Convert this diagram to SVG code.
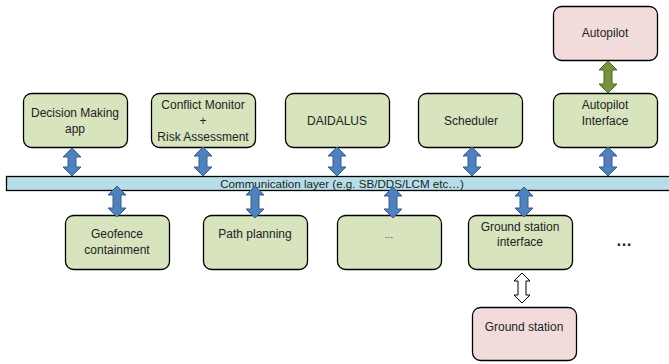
<svg xmlns="http://www.w3.org/2000/svg" width="669" height="364" viewBox="0 0 669 364">
<style>
.g{fill:#d7e4bd;stroke:#000;stroke-width:1.3}
.p{fill:#f2dcdb;stroke:#000;stroke-width:1.3}
.t{font-family:"Liberation Sans",Arial,sans-serif;font-size:12px;fill:#222;text-anchor:middle}
.ba{fill:#4f81bd;stroke:#385d8a;stroke-width:1}
.ga{fill:#77933c;stroke:#4f6228;stroke-width:1}
.wa{fill:#fff;stroke:#000;stroke-width:1}
</style>
<rect x="0" y="0" width="669" height="364" fill="#fff"/>
<g id="comm">
<rect x="6.5" y="176.5" width="670" height="14" fill="#b7dee8" stroke="#000" stroke-width="1.3"/>
<text class="t" x="342" y="188" style="font-size:11.6px">Communication layer (e.g. SB/DDS/LCM etc…)</text>
</g>
<g id="autopilot"><rect class="p" x="553.5" y="6.5" width="104" height="54" rx="8"/><text class="t" x="605" y="37">Autopilot</text></g>
<g id="decision"><rect class="g" x="23.5" y="93.5" width="104" height="54" rx="8"/><text class="t" x="75" y="117">Decision Making</text><text class="t" x="75" y="133">app</text></g>
<g id="conflict"><rect class="g" x="151.5" y="93.5" width="104" height="54" rx="8"/><text class="t" x="203" y="109">Conflict Monitor</text><text class="t" x="203" y="125">+</text><text class="t" x="203" y="141">Risk Assessment</text></g>
<g id="daidalus"><rect class="g" x="285.5" y="93.5" width="104" height="54" rx="8"/><text class="t" x="337" y="125">DAIDALUS</text></g>
<g id="scheduler"><rect class="g" x="418.5" y="93.5" width="104" height="54" rx="8"/><text class="t" x="471" y="125">Scheduler</text></g>
<g id="apif"><rect class="g" x="553.5" y="93.5" width="104" height="54" rx="8"/><text class="t" x="605" y="109">Autopilot</text><text class="t" x="605" y="125">Interface</text></g>
<g id="geofence"><rect class="g" x="65.5" y="215.5" width="104" height="54" rx="8"/><text class="t" x="117" y="238">Geofence</text><text class="t" x="117" y="254">containment</text></g>
<g id="path"><rect class="g" x="203.5" y="215.5" width="104" height="54" rx="8"/><text class="t" x="255" y="238">Path planning</text></g>
<g id="dots"><rect class="g" x="337.5" y="215.5" width="104" height="54" rx="8"/><text class="t" x="389" y="238" style="font-size:9px">…</text></g>
<g id="gsif"><rect class="g" x="468.5" y="215.5" width="104" height="54" rx="8"/><text class="t" x="520" y="231">Ground station</text><text class="t" x="520" y="246">interface</text></g>
<g id="gs"><rect class="p" x="472.5" y="307.5" width="104" height="53" rx="8"/><text class="t" x="524" y="331">Ground station</text></g>
<g id="more"><text class="t" x="624" y="246" style="font-size:16px;font-weight:bold">…</text></g>
<g id="connectors">
<path class="ba" d="M72,148 L81,157 L76,157 L76,167 L81,167 L72,176 L63,167 L68,167 L68,157 L63,157 Z"/>
<path class="ba" d="M203,147 L212,156 L207,156 L207,167 L212,167 L203,176 L194,167 L199,167 L199,156 L194,156 Z"/>
<path class="ba" d="M337,147 L346,156 L341,156 L341,167 L346,167 L337,176 L328,167 L333,167 L333,156 L328,156 Z"/>
<path class="ba" d="M472,147 L481,156 L476,156 L476,167 L481,167 L472,176 L463,167 L468,167 L468,156 L463,156 Z"/>
<path class="ba" d="M608,147 L617,156 L612,156 L612,167 L617,167 L608,176 L599,167 L604,167 L604,156 L599,156 Z"/>
<path class="ga" d="M608,61 L617,70 L612,70 L612,84 L617,84 L608,93 L599,84 L604,84 L604,70 L599,70 Z"/>
<path class="ba" d="M117,186 L126,195 L121,195 L121,208 L126,208 L117,217 L108,208 L113,208 L113,195 L108,195 Z"/>
<path class="ba" d="M255,186 L264,195 L259,195 L259,209 L264,209 L255,218 L246,209 L251,209 L251,195 L246,195 Z"/>
<path class="ba" d="M393,187 L402,196 L397,196 L397,209 L402,209 L393,218 L384,209 L389,209 L389,196 L384,196 Z"/>
<path class="ba" d="M524,187 L533,196 L528,196 L528,208 L533,208 L524,217 L515,208 L520,208 L520,196 L515,196 Z"/>
<path class="wa" d="M522,273 L530,281 L526,281 L526,295 L530,295 L522,303 L514,295 L518,295 L518,281 L514,281 Z"/>
</g>
</svg>
